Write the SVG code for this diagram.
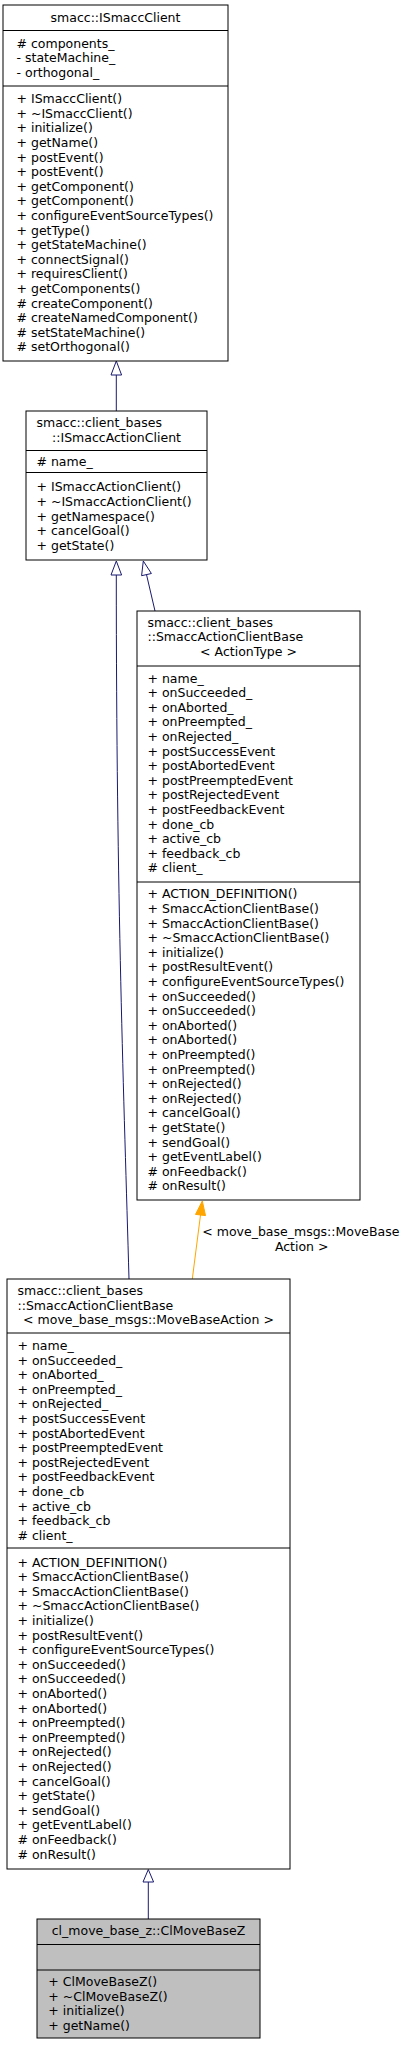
<svg xmlns="http://www.w3.org/2000/svg" width="413" height="2045" viewBox="0 0 413 2045">
<style>
text{font-family:"DejaVu Sans","Liberation Sans",sans-serif;font-size:12.5px;fill:#000}
.box{fill:#fff;stroke:#000;stroke-width:1}
.sel{fill:#bfbfbf;stroke:#000;stroke-width:1}
.sep{stroke:#000;stroke-width:1;fill:none}
.e{stroke:#191970;stroke-width:1;fill:none}
.eh{stroke:#191970;stroke-width:1;fill:#fff}
.o{stroke:#ffa500;stroke-width:1;fill:none}
.oh{stroke:#ffa500;stroke-width:1;fill:#ffa500}
.c{text-anchor:middle}
</style>
<rect width="413" height="2045" fill="#fff"/>
<g id="connectors">
<path class="e" d="M116.3,411 L116.3,375"/>
<polygon class="eh" points="116.3,361 111,375 121.6,375"/>
<path class="e" d="M155,611 L146.5,574.6"/>
<polygon class="eh" points="143.3,561 141.6,575.7 151.4,573.5"/>
<path class="e" d="M129,1279 C124,1100 116.3,900 116.3,575"/>
<polygon class="eh" points="116.3,561 111,575 121.6,575"/>
<path class="o" d="M192.3,1279 L200.5,1215"/>
<polygon class="oh" points="202.3,1201 195.5,1214.4 205.5,1215.6"/>
<text x="202.3" y="1235.7">&lt; move_base_msgs::MoveBase</text>
<text class="c" x="301.7" y="1250.7">Action &gt;</text>
<path class="e" d="M148.3,1919 L148.3,1882"/>
<polygon class="eh" points="148.3,1869.5 143,1882 153.6,1882"/>
</g>
<g id="node1">
<rect class="box" x="3" y="5" width="225" height="356"/>
<line class="sep" x1="3" y1="30.5" x2="228" y2="30.5"/>
<line class="sep" x1="3" y1="86" x2="228" y2="86"/>
<text class="c" x="115.5" y="22.3">smacc::ISmaccClient</text>
<text x="16.5" y="47.6"><tspan># components_</tspan><tspan x="16.5" dy="14.6">- stateMachine_</tspan><tspan x="16.5" dy="14.6">- orthogonal_</tspan></text>
<text x="16.5" y="103.2"><tspan>+ ISmaccClient()</tspan><tspan x="16.5" dy="14.6">+ ~ISmaccClient()</tspan><tspan x="16.5" dy="14.6">+ initialize()</tspan><tspan x="16.5" dy="14.6">+ getName()</tspan><tspan x="16.5" dy="14.6">+ postEvent()</tspan><tspan x="16.5" dy="14.6">+ postEvent()</tspan><tspan x="16.5" dy="14.6">+ getComponent()</tspan><tspan x="16.5" dy="14.6">+ getComponent()</tspan><tspan x="16.5" dy="14.6">+ configureEventSourceTypes()</tspan><tspan x="16.5" dy="14.6">+ getType()</tspan><tspan x="16.5" dy="14.6">+ getStateMachine()</tspan><tspan x="16.5" dy="14.6">+ connectSignal()</tspan><tspan x="16.5" dy="14.6">+ requiresClient()</tspan><tspan x="16.5" dy="14.6">+ getComponents()</tspan><tspan x="16.5" dy="14.6"># createComponent()</tspan><tspan x="16.5" dy="14.6"># createNamedComponent()</tspan><tspan x="16.5" dy="14.6"># setStateMachine()</tspan><tspan x="16.5" dy="14.6"># setOrthogonal()</tspan></text>
</g>
<g id="node2">
<rect class="box" x="26" y="411" width="181" height="149"/>
<line class="sep" x1="26" y1="450.5" x2="207" y2="450.5"/>
<line class="sep" x1="26" y1="472.5" x2="207" y2="472.5"/>
<text x="36.5" y="427">smacc::client_bases</text>
<text class="c" x="116.5" y="441.8">::ISmaccActionClient</text>
<text x="36.5" y="465.7"># name_</text>
<text x="36.5" y="491.3"><tspan>+ ISmaccActionClient()</tspan><tspan x="36.5" dy="14.6">+ ~ISmaccActionClient()</tspan><tspan x="36.5" dy="14.6">+ getNamespace()</tspan><tspan x="36.5" dy="14.6">+ cancelGoal()</tspan><tspan x="36.5" dy="14.6">+ getState()</tspan></text>
</g>
<g id="node3">
<rect class="box" x="137" y="611" width="223" height="589"/>
<line class="sep" x1="137" y1="666" x2="360" y2="666"/>
<line class="sep" x1="137" y1="882" x2="360" y2="882"/>
<text x="147.5" y="626.6"><tspan>smacc::client_bases</tspan><tspan x="147.5" dy="14.8">::SmaccActionClientBase</tspan></text>
<text class="c" x="248.5" y="656.2">&lt; ActionType &gt;</text>
<text x="147.5" y="682.5"><tspan>+ name_</tspan><tspan x="147.5" dy="14.6">+ onSucceeded_</tspan><tspan x="147.5" dy="14.6">+ onAborted_</tspan><tspan x="147.5" dy="14.6">+ onPreempted_</tspan><tspan x="147.5" dy="14.6">+ onRejected_</tspan><tspan x="147.5" dy="14.6">+ postSuccessEvent</tspan><tspan x="147.5" dy="14.6">+ postAbortedEvent</tspan><tspan x="147.5" dy="14.6">+ postPreemptedEvent</tspan><tspan x="147.5" dy="14.6">+ postRejectedEvent</tspan><tspan x="147.5" dy="14.6">+ postFeedbackEvent</tspan><tspan x="147.5" dy="14.6">+ done_cb</tspan><tspan x="147.5" dy="14.6">+ active_cb</tspan><tspan x="147.5" dy="14.6">+ feedback_cb</tspan><tspan x="147.5" dy="14.6"># client_</tspan></text>
<text x="147.5" y="898.3"><tspan>+ ACTION_DEFINITION()</tspan><tspan x="147.5" dy="14.6">+ SmaccActionClientBase()</tspan><tspan x="147.5" dy="14.6">+ SmaccActionClientBase()</tspan><tspan x="147.5" dy="14.6">+ ~SmaccActionClientBase()</tspan><tspan x="147.5" dy="14.6">+ initialize()</tspan><tspan x="147.5" dy="14.6">+ postResultEvent()</tspan><tspan x="147.5" dy="14.6">+ configureEventSourceTypes()</tspan><tspan x="147.5" dy="14.6">+ onSucceeded()</tspan><tspan x="147.5" dy="14.6">+ onSucceeded()</tspan><tspan x="147.5" dy="14.6">+ onAborted()</tspan><tspan x="147.5" dy="14.6">+ onAborted()</tspan><tspan x="147.5" dy="14.6">+ onPreempted()</tspan><tspan x="147.5" dy="14.6">+ onPreempted()</tspan><tspan x="147.5" dy="14.6">+ onRejected()</tspan><tspan x="147.5" dy="14.6">+ onRejected()</tspan><tspan x="147.5" dy="14.6">+ cancelGoal()</tspan><tspan x="147.5" dy="14.6">+ getState()</tspan><tspan x="147.5" dy="14.6">+ sendGoal()</tspan><tspan x="147.5" dy="14.6">+ getEventLabel()</tspan><tspan x="147.5" dy="14.6"># onFeedback()</tspan><tspan x="147.5" dy="14.6"># onResult()</tspan></text>
</g>
<g id="node4">
<rect class="box" x="7" y="1279" width="283" height="590"/>
<line class="sep" x1="7" y1="1333" x2="290" y2="1333"/>
<line class="sep" x1="7" y1="1548" x2="290" y2="1548"/>
<text x="17.5" y="1294.7"><tspan>smacc::client_bases</tspan><tspan x="17.5" dy="14.8">::SmaccActionClientBase</tspan></text>
<text class="c" x="148.5" y="1324.3">&lt; move_base_msgs::MoveBaseAction &gt;</text>
<text x="17.5" y="1350"><tspan>+ name_</tspan><tspan x="17.5" dy="14.6">+ onSucceeded_</tspan><tspan x="17.5" dy="14.6">+ onAborted_</tspan><tspan x="17.5" dy="14.6">+ onPreempted_</tspan><tspan x="17.5" dy="14.6">+ onRejected_</tspan><tspan x="17.5" dy="14.6">+ postSuccessEvent</tspan><tspan x="17.5" dy="14.6">+ postAbortedEvent</tspan><tspan x="17.5" dy="14.6">+ postPreemptedEvent</tspan><tspan x="17.5" dy="14.6">+ postRejectedEvent</tspan><tspan x="17.5" dy="14.6">+ postFeedbackEvent</tspan><tspan x="17.5" dy="14.6">+ done_cb</tspan><tspan x="17.5" dy="14.6">+ active_cb</tspan><tspan x="17.5" dy="14.6">+ feedback_cb</tspan><tspan x="17.5" dy="14.6"># client_</tspan></text>
<text x="17.5" y="1566.5"><tspan>+ ACTION_DEFINITION()</tspan><tspan x="17.5" dy="14.6">+ SmaccActionClientBase()</tspan><tspan x="17.5" dy="14.6">+ SmaccActionClientBase()</tspan><tspan x="17.5" dy="14.6">+ ~SmaccActionClientBase()</tspan><tspan x="17.5" dy="14.6">+ initialize()</tspan><tspan x="17.5" dy="14.6">+ postResultEvent()</tspan><tspan x="17.5" dy="14.6">+ configureEventSourceTypes()</tspan><tspan x="17.5" dy="14.6">+ onSucceeded()</tspan><tspan x="17.5" dy="14.6">+ onSucceeded()</tspan><tspan x="17.5" dy="14.6">+ onAborted()</tspan><tspan x="17.5" dy="14.6">+ onAborted()</tspan><tspan x="17.5" dy="14.6">+ onPreempted()</tspan><tspan x="17.5" dy="14.6">+ onPreempted()</tspan><tspan x="17.5" dy="14.6">+ onRejected()</tspan><tspan x="17.5" dy="14.6">+ onRejected()</tspan><tspan x="17.5" dy="14.6">+ cancelGoal()</tspan><tspan x="17.5" dy="14.6">+ getState()</tspan><tspan x="17.5" dy="14.6">+ sendGoal()</tspan><tspan x="17.5" dy="14.6">+ getEventLabel()</tspan><tspan x="17.5" dy="14.6"># onFeedback()</tspan><tspan x="17.5" dy="14.6"># onResult()</tspan></text>
</g>
<g id="node5">
<rect class="sel" x="37" y="1919" width="223" height="119"/>
<line class="sep" x1="37" y1="1944.5" x2="260" y2="1944.5"/>
<line class="sep" x1="37" y1="1970" x2="260" y2="1970"/>
<text class="c" x="148.5" y="1934.7">cl_move_base_z::ClMoveBaseZ</text>
<text x="48.3" y="1986"><tspan>+ ClMoveBaseZ()</tspan><tspan x="48.3" dy="14.6">+ ~ClMoveBaseZ()</tspan><tspan x="48.3" dy="14.6">+ initialize()</tspan><tspan x="48.3" dy="14.6">+ getName()</tspan></text>
</g>
</svg>
